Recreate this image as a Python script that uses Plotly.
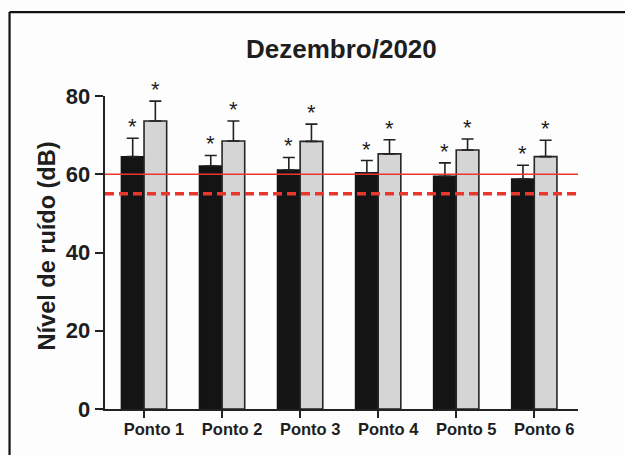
import plotly.graph_objects as go

categories = ["Ponto 1", "Ponto 2", "Ponto 3", "Ponto 4", "Ponto 5", "Ponto 6"]
dark_mean = [64.5, 62.1, 61.1, 60.4, 59.5, 58.8]
dark_sd = [4.7, 2.7, 3.2, 3.1, 3.4, 3.5]
light_mean = [73.6, 68.5, 68.4, 65.2, 66.2, 64.5]
light_sd = [5.1, 5.1, 4.4, 3.6, 2.8, 4.2]
limit_solid = 60
limit_dashed = 55
y_ticks = [0, 20, 40, 60, 80]

FONT = "Liberation Sans, Arial, sans-serif"
TXT = "#1e1e1e"

W, H = 625, 455
L, R, T, B = 104.5, 577.7, 96.0, 409.3

def px(xp):
    return (xp - L) / (R - L)

def py(yp):
    return (B - yp) / (B - T)

fig = go.Figure()
fig.add_trace(go.Bar(
    x=categories, y=dark_mean, name="dark",
    marker=dict(color="#141414", line=dict(color="#141414", width=1.5)),
    error_y=dict(type="data", array=dark_sd, symmetric=False, arrayminus=[0]*6,
                 color="#222222", thickness=1.6, width=6),
    cliponaxis=False,
))
fig.add_trace(go.Bar(
    x=categories, y=light_mean, name="light",
    marker=dict(color="#d5d5d5", line=dict(color="#262626", width=1.6)),
    error_y=dict(type="data", array=light_sd, symmetric=False, arrayminus=[0]*6,
                 color="#222222", thickness=1.6, width=6),
    cliponaxis=False,
))

# reference lines
fig.add_shape(type="line", xref="paper", yref="y", x0=0, x1=1, y0=limit_solid, y1=limit_solid,
              line=dict(color="#e8382e", width=1.6))
fig.add_shape(type="line", xref="paper", yref="y", x0=0, x1=1, y0=limit_dashed, y1=limit_dashed,
              line=dict(color="#e8382e", width=3.5, dash="9px,5px"))

# frame
fx = px(9)
fy = py(12)
fig.add_shape(type="line", xref="paper", yref="paper", x0=fx, x1=fx, y0=-0.3, y1=fy,
              line=dict(color="#111111", width=2.2))
fig.add_shape(type="line", xref="paper", yref="paper", x0=fx, x1=1.2, y0=fy, y1=fy,
              line=dict(color="#111111", width=2.2))

annotations = []
for c, m, s in zip(categories, dark_mean, dark_sd):
    annotations.append(dict(x=c, y=m + s, xref="x", yref="y", text="*", showarrow=False,
                            xshift=-11.3, yshift=11.5, yanchor="middle",
                            font=dict(family=FONT, size=22, color=TXT)))
for c, m, s in zip(categories, light_mean, light_sd):
    annotations.append(dict(x=c, y=m + s, xref="x", yref="y", text="*", showarrow=False,
                            xshift=11.3, yshift=11.5, yanchor="middle",
                            font=dict(family=FONT, size=22, color=TXT)))

annotations.append(dict(x=0.5, y=py(49), xref="paper", yref="paper", text="Dezembro/2020",
                        showarrow=False, yanchor="middle", xanchor="center",
                        font=dict(family=FONT, size=26, color=TXT, weight="bold")))
annotations.append(dict(x=px(46), y=py(246), xref="paper", yref="paper", text="Nível de ruído (dB)",
                        showarrow=False, textangle=-90, yanchor="middle", xanchor="center",
                        font=dict(family=FONT, size=23.5, color=TXT, weight="bold")))

fig.update_layout(
    width=W, height=H,
    margin=dict(l=L, r=W - R, t=T, b=H - B, pad=0),
    paper_bgcolor="#fdfdfd", plot_bgcolor="#fdfdfd",
    barmode="group", bargap=0.42, bargroupgap=0,
    showlegend=False,
    annotations=annotations,
    font=dict(family=FONT, color=TXT),
)
fig.update_xaxes(
    range=[-0.5, 5.56], showline=True, linecolor="#222222", linewidth=1.6,
    ticks="outside", ticklen=7.5, tickwidth=1.6, tickcolor="#222222",
    tickfont=dict(family=FONT, size=16.5, color=TXT, weight="bold"),
    ticklabelshift=10, ticklabelstandoff=-3, showgrid=False, zeroline=False, fixedrange=True,
)
fig.update_yaxes(
    range=[0, 80], tickvals=y_ticks, showline=True, linecolor="#222222", linewidth=1.6,
    ticks="outside", ticklen=8.5, tickwidth=1.6, tickcolor="#222222",
    tickfont=dict(family=FONT, size=22, color=TXT, weight="bold"),
    showgrid=False, zeroline=False, fixedrange=True,
)

fig.write_html(
    "out.html",
    config={"displayModeBar": False},
    post_script="document.body.style.margin='0';document.body.style.overflow='hidden';"
                "document.documentElement.style.overflow='hidden';",
)
